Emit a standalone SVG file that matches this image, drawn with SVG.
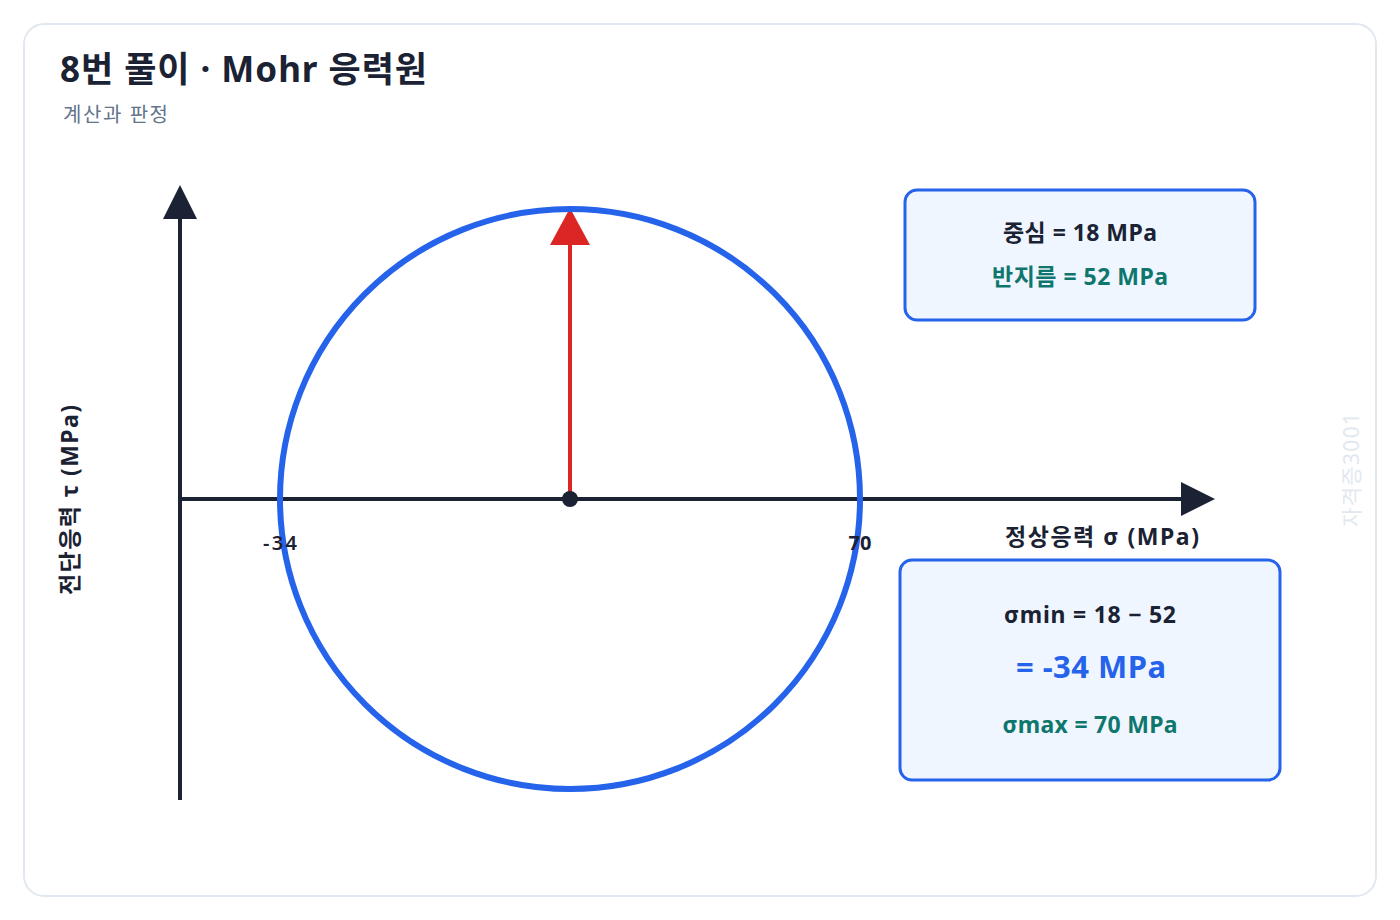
<svg xmlns="http://www.w3.org/2000/svg" width="1400" height="920" viewBox="0 0 1400 920">
<style>
text{font-family:"Noto Sans","Noto Sans CJK KR",sans-serif}
.dark{fill:#1a2233}
.b{font-weight:700}
.teal{fill:#0f766e}
.box{fill:#eff6ff;stroke:#2563eb;stroke-width:3}
.axis{stroke:#1a2233;stroke-width:4;fill:none}
</style>
<defs>
<marker id="ah" markerUnits="userSpaceOnUse" markerWidth="34" markerHeight="34" viewBox="0 0 32 32" refX="0" refY="16" orient="auto"><path d="M0,0 L32,16 L0,32 Z" fill="#1a2233"/></marker>
<marker id="rh" markerUnits="userSpaceOnUse" markerWidth="40" markerHeight="40" viewBox="0 0 37 40" refX="0" refY="20" orient="auto"><path d="M0,0 L37,20 L0,40 Z" fill="#dc2626"/></marker>
</defs>
<rect x="24" y="24" width="1352" height="872" rx="20" fill="#ffffff" stroke="#e2e8f0" stroke-width="2"/>
<g id="title">
<text x="60" y="82" font-size="35" class="dark b" textLength="367" lengthAdjust="spacing">8번 풀이 · Mohr 응력원</text>
<text x="63" y="122" font-size="20" fill="#64748b" textLength="105" lengthAdjust="spacing">계산과 판정</text>
</g>
<g id="connectors">
<line x1="180" y1="800" x2="180" y2="219" class="axis" marker-end="url(#ah)"/>
<line x1="180" y1="499" x2="1181" y2="499" class="axis" marker-end="url(#ah)"/>
<line x1="570" y1="499" x2="570" y2="245" stroke="#dc2626" stroke-width="4" marker-end="url(#rh)"/>
</g>
<g id="circle">
<circle cx="570" cy="499" r="290" fill="none" stroke="#2563eb" stroke-width="6"/>
<circle cx="570" cy="499" r="8" fill="#1a2233"/>
</g>
<g id="ticks">
<text x="280" y="550" font-size="20" text-anchor="middle" class="dark" font-weight="600" textLength="34" lengthAdjust="spacing">-34</text>
<text x="860" y="550" font-size="20" text-anchor="middle" class="dark b">70</text>
</g>
<g id="axis-labels">
<text x="1199" y="545" font-size="23" text-anchor="end" class="dark b" textLength="194" lengthAdjust="spacing">정상응력 σ (MPa)</text>
<text transform="translate(78,500) rotate(-90)" font-size="23" text-anchor="middle" class="dark b" textLength="190" lengthAdjust="spacing">전단응력 τ (MPa)</text>
</g>
<g id="box-center">
<rect x="905" y="190" width="350" height="130" rx="12" class="box"/>
<text x="1080" y="241" font-size="23" text-anchor="middle" class="dark b" textLength="154" lengthAdjust="spacing">중심 = 18 MPa</text>
<text x="1080" y="285" font-size="23" text-anchor="middle" class="teal b" textLength="176" lengthAdjust="spacing">반지름 = 52 MPa</text>
</g>
<g id="box-result">
<rect x="900" y="560" width="380" height="220" rx="12" class="box"/>
<text x="1090" y="623" font-size="23" text-anchor="middle" class="dark b" textLength="172" lengthAdjust="spacing">σmin = 18 − 52</text>
<text x="1091" y="678" font-size="31" text-anchor="middle" fill="#2563eb" class="b" textLength="150" lengthAdjust="spacing">= -34 MPa</text>
<text x="1090" y="733" font-size="23" text-anchor="middle" class="teal b" textLength="175" lengthAdjust="spacing">σmax = 70 MPa</text>
</g>
<text transform="translate(1359,470) rotate(-90)" font-size="21" text-anchor="middle" fill="#e2e8f0" textLength="114" lengthAdjust="spacing">자격증3001</text>
</svg>
